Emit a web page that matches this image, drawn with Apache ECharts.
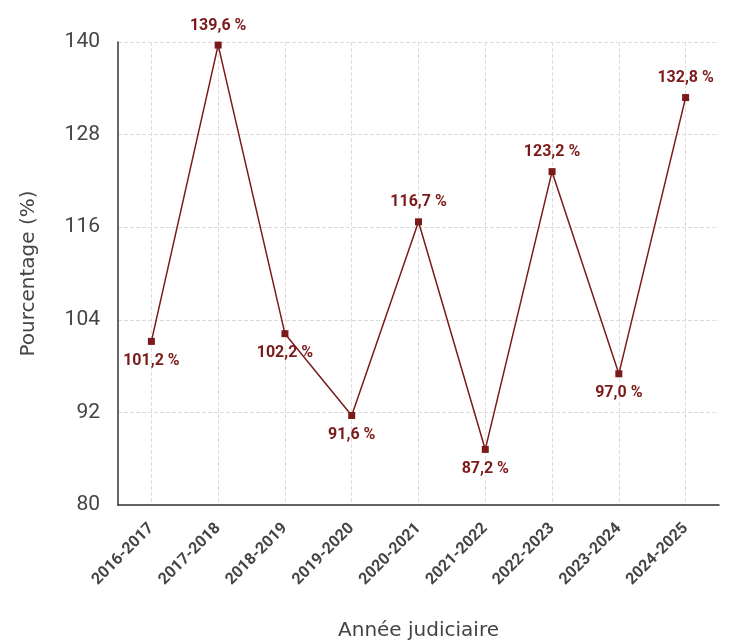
<!DOCTYPE html>
<html>
<head>
<meta charset="utf-8">
<script src="https://cdn.jsdelivr.net/npm/echarts@6/dist/echarts.min.js"></script>
<style>
  html, body { margin: 0; padding: 0; background: #fff; }
  #chart { width: 734px; height: 640px; }
</style>
</head>
<body>
<div id="chart"></div>
<script>
  // données
  const annees = ['2016-2017', '2017-2018', '2018-2019', '2019-2020', '2020-2021', '2021-2022', '2022-2023', '2023-2024', '2024-2025']
  const pourcentages = [101.2, 139.6, 102.2, 91.6, 116.7, 87.2, 123.2, 97.0, 132.8]
  const positionsEtiquettes = ['bottom', 'top', 'bottom', 'bottom', 'top', 'bottom', 'top', 'bottom', 'top']

  const rouge = '#7b1a1a'
  const etroite = 'Roboto, sans-serif'
  const police = '"DejaVu Sans", sans-serif'

  const myChart = echarts.init(document.getElementById('chart'))

  myChart.setOption({
    animation: false,
    grid: {
      left: 118,
      right: 15,
      top: 42,
      bottom: 135,
      outerBoundsMode: 'none'
    },
    xAxis: {
      type: 'category',
      data: annees,
      boundaryGap: true,
      name: 'Année judiciaire',
      nameLocation: 'middle',
      nameGap: 116,
      nameTextStyle: { fontSize: 20, color: '#444', fontFamily: police },
      axisLine: { show: true, lineStyle: { color: '#333', width: 1.5 } },
      axisTick: { show: false, alignWithLabel: true },
      axisLabel: {
        rotate: 45,
        interval: 0,
        fontSize: 16,
        fontWeight: 'bold',
        color: '#444',
        fontFamily: etroite,
        margin: 21
      },
      splitLine: {
        show: true,
        interval: 0,
        alignWithLabel: true,
        lineStyle: { color: '#ddd', type: 'dashed', width: 1 }
      }
    },
    yAxis: {
      type: 'value',
      min: 80,
      max: 140,
      interval: 12,
      name: 'Pourcentage (%)',
      nameLocation: 'middle',
      nameGap: 79,
      nameTextStyle: { fontSize: 20, color: '#444', fontFamily: police },
      axisLine: { show: true, lineStyle: { color: '#333', width: 1.5 } },
      axisTick: { show: false },
      axisLabel: { fontSize: 21, color: '#444', fontFamily: etroite, margin: 18 },
      splitLine: { show: true, lineStyle: { color: '#ddd', type: 'dashed', width: 1 } }
    },
    series: [
      {
        type: 'line',
        data: pourcentages.map((v, i) => ({
          value: v,
          label: { position: positionsEtiquettes[i] }
        })),
        symbol: 'rect',
        symbolSize: 7,
        lineStyle: { color: rouge, width: 1.5 },
        itemStyle: { color: rouge },
        label: {
          show: true,
          distance: 8,
          fontSize: 16,
          fontWeight: 'bold',
          color: rouge,
          fontFamily: etroite,
          formatter: function(p) {
            return p.value.toFixed(1).replace('.', ',') + ' %'
          }
        }
      }
    ]
  })
</script>
</body>
</html>
